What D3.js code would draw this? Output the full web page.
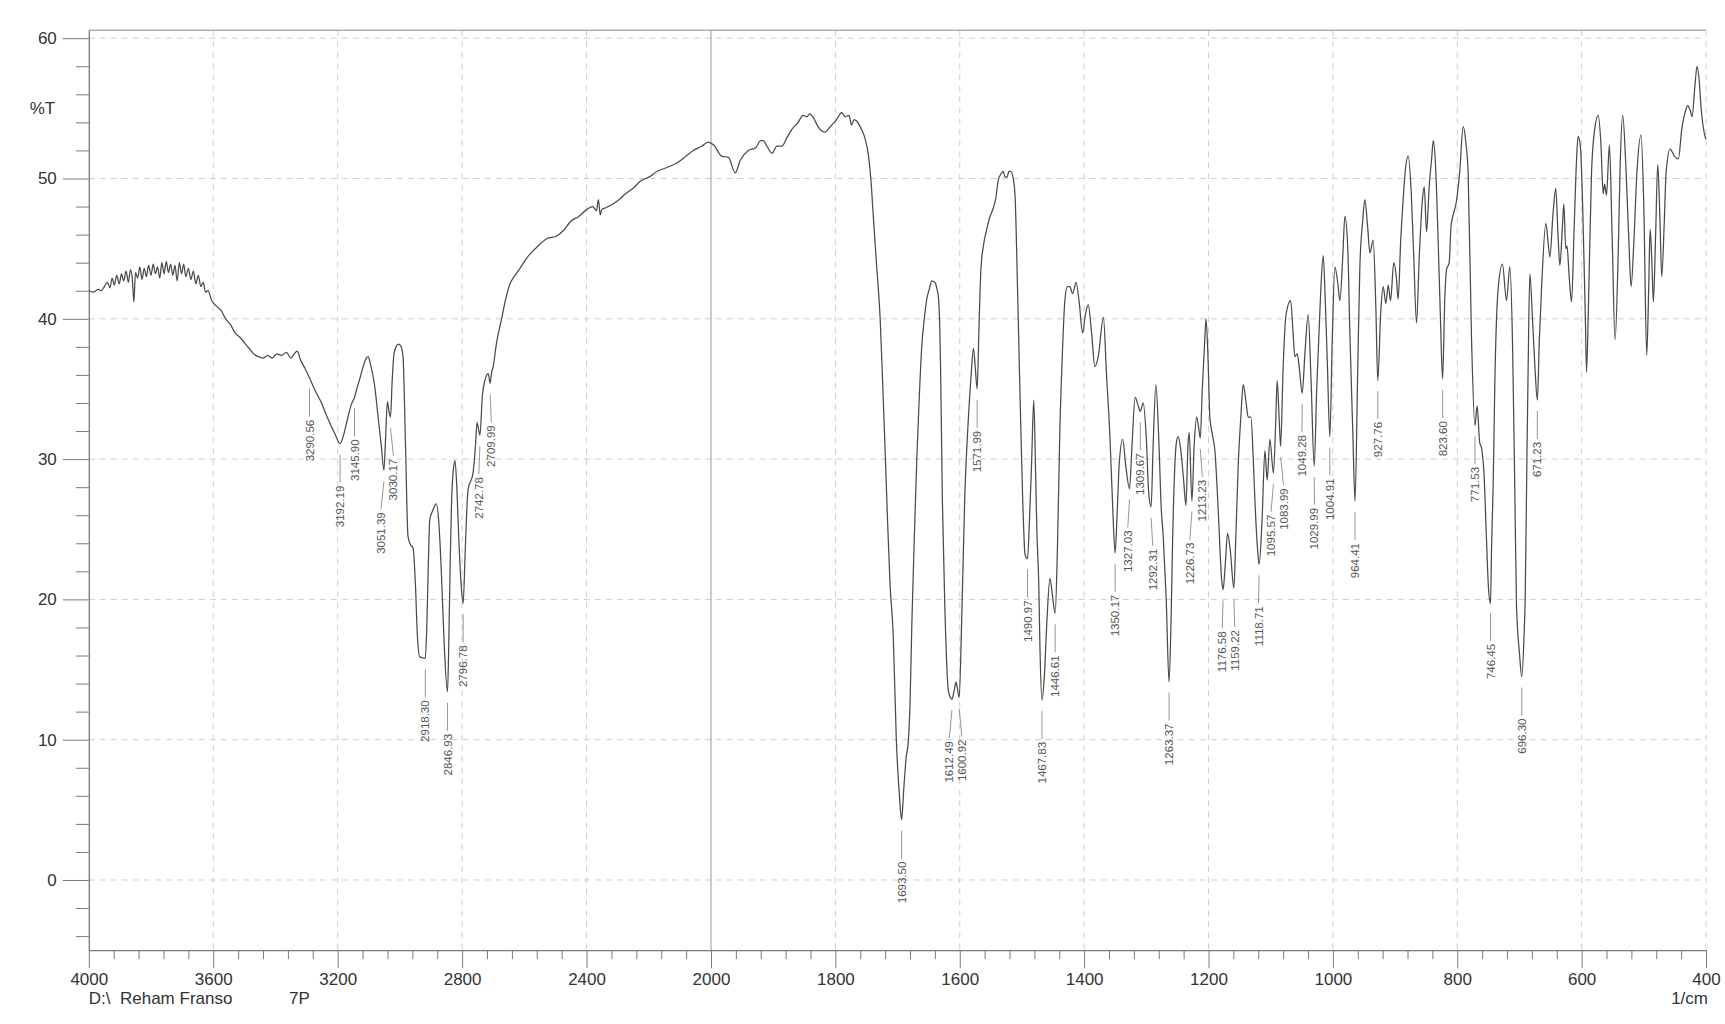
<!DOCTYPE html>
<html>
<head>
<meta charset="utf-8">
<script src="https://cdn.jsdelivr.net/npm/d3@7"></script>
<style>
  body { margin: 0; background: #ffffff; }
  svg { display: block; }
  text { font-family: "Liberation Sans", Arial, sans-serif; }
</style>
</head>
<body>
<svg id="chart" width="1725" height="1024"></svg>
<script>
// ---------------- DATA ----------------
const wavenumbers = [
4000,3985,3970,3960,3950,3940,3932,3925,3918,3910,3902,3895,3888,3880,3873,3866,3860,3855,3850,3843,
3836,3829,3822,3815,3808,3800,3793,3786,3779,3772,3765,3758,3751,3744,3737,3730,3723,3716,3709,3702,
3695,3688,3680,3672,3664,3656,3648,3640,3632,3625,3617,3605,3590,3575,3560,3545,3530,3515,3500,3485,
3470,3455,3440,3425,3410,3395,3380,3365,3350,3340,3330,3320,3306,3290.6,3275,3252,3230,3209,3192.2,3180,
3167,3156,3145.9,3136,3128,3118,3108,3102,3095,3081,3070,3060,3051.4,3046,3040,3035,3030.2,3025,3019,3010,
3004,2996,2990,2982,2974,2966,2958,2950,2944,2936,2918.3,2913,2908,2904,2895,2883,2875,2867,2858,2846.9,
2842,2838,2834,2828,2823,2817,2811,2803,2796.8,2790,2781,2765,2757,2752,2742.8,2735,2727,2716,2710,2705,
2700,2690,2674,2660,2646,2630,2614,2590,2560,2528,2496,2470,2453,2425,2399,2380,2368,2362,2356,2351,
2340,2314,2295,2276,2250,2228,2200,2174,2140,2110,2080,2057,2030,2009,1996,1983,1972,1961,1953,1940,
1928,1920,1916,1910,1902,1894,1886,1878,1870,1860,1852,1846,1841,1835,1828,1822,1817,1810,1806,1798,
1790,1784,1778,1774,1770,1766,1758,1752,1747,1743,1739,1734,1728,1724,1720,1716,1712,1707,1702,1697,
1693.5,1690,1686,1683,1680,1677,1673,1669,1665,1661,1657,1653,1649,1645,1640,1637,1634,1631,1628,1624,
1618,1612.5,1609,1606,1604,1600.9,1597,1592,1586,1582,1578,1575,1572,1569,1566,1562,1557,1552,1546,1542,
1538,1534,1530,1527,1524,1521,1518,1514,1511,1507,1503,1499,1495,1491,1488,1484.5,1481,1478,1476,1473,
1471,1467.8,1464,1460,1455,1451,1446.6,1443,1439,1435,1431,1427,1423,1418.5,1413,1408,1402.4,1398,1393.4,1388,
1382.7,1377.3,1369,1364,1358.5,1354,1350.2,1347,1343.5,1338,1333,1327,1323,1318,1313,1309.7,1305,1300,1296,1292.3,
1289,1284.6,1280,1276,1272.8,1268,1263.4,1260,1257.7,1251.3,1248.7,1245,1240,1236.3,1233,1231,1226.7,1223,1219,1216,
1213.2,1210,1206,1204,1201,1197.8,1194,1189.7,1184,1179,1176.6,1173,1169.4,1165,1159.2,1156,1152.3,1148,1144.2,1140,
1136.2,1131.8,1128,1125.4,1121,1118.7,1114,1109.3,1105.6,1101.3,1095.6,1092,1089.6,1086,1084,1080,1075.6,1068,1064,1061.1,
1057.4,1054,1049.3,1045,1039.7,1035,1030,1026,1020,1015.6,1012,1009,1004.9,1001,996.8,992,988.7,984,980.7,976,
972.7,968,964.4,960,956.6,952,948.6,944,940.5,935.2,931,927.8,923,919.1,914.8,911,907.3,902,898,895,
891,887,883,879,874,870,865.5,861,856,853,849.4,845,841,838.6,835,831,827,823.6,820,817.2,
813,810,806,802,796,790.5,786,782.5,777,771.5,768,764,761,757,753.5,750,746.5,744.8,742.3,739.5,
734.3,727.3,720.8,715.5,711,707.5,704.7,700,696.3,692.5,690.7,688,686,683.3,679,675,671.2,668,664.5,657.5,
654,651.1,646,641.5,638,635,631,628.6,625.5,623.5,620,616.2,612,608,605.6,602,598,594,592.1,589,
584.1,579,573.4,569,565.3,563,560,555.3,551,546.2,541,538,533.9,529,524,520.5,516,511,504.4,500,
495.3,492,489.9,487,484.6,481,477.6,474,471.2,467,464.2,457.8,450.8,444.4,439,433,429.4,425,422.4,418,
414.4,411,408,402.6,400
];
const transmittance = [
42.0,41.9,42.1,42.0,42.3,42.6,42.2,42.9,42.4,43.1,42.5,43.2,42.7,43.4,42.6,43.5,42.8,41.2,43.3,42.9,
43.7,42.8,43.6,43.0,43.8,43.1,43.9,43.2,43.7,42.9,44.0,43.2,44.1,43.3,43.9,43.1,43.8,42.7,44.0,43.2,
43.9,43.0,43.6,42.8,43.4,42.5,43.1,42.3,42.6,41.9,42.0,41.3,40.9,40.6,40.0,39.6,39.0,38.7,38.3,37.9,
37.5,37.3,37.2,37.4,37.2,37.5,37.4,37.6,37.2,37.5,37.7,37.1,36.5,35.8,35.0,34.0,32.8,31.8,31.1,31.8,
33.0,33.9,34.4,35.2,35.8,36.6,37.2,37.3,36.8,35.2,33.0,31.0,29.2,31.5,34.1,33.4,33.0,35.5,37.5,38.1,
38.2,38.0,37.3,31.0,24.5,23.9,23.7,21.0,17.5,15.9,15.8,18.5,23.0,25.7,26.3,26.8,25.5,22.1,17.0,13.4,
18.0,23.0,26.9,29.3,29.9,28.0,24.5,21.0,19.7,23.5,27.8,29.0,31.0,32.6,31.7,34.5,35.6,36.1,35.4,36.2,
36.6,38.2,39.9,41.4,42.5,43.1,43.6,44.4,45.1,45.7,45.9,46.4,46.9,47.3,47.8,48.0,47.7,48.5,47.4,47.8,
47.9,48.2,48.5,48.9,49.3,49.8,50.1,50.5,50.8,51.1,51.6,52.0,52.3,52.6,52.4,51.6,51.5,50.4,51.3,52.0,
52.2,52.7,52.7,52.3,51.8,52.3,52.3,52.9,53.5,54.0,54.5,54.4,54.6,54.3,53.7,53.4,53.3,53.6,53.8,54.2,
54.7,54.4,54.5,53.8,54.2,54.1,53.5,52.8,51.7,50.0,47.3,44.0,40.0,35.5,30.6,25.5,21.0,17.5,10.0,6.0,
4.3,6.5,8.8,9.7,12.5,18.3,24.5,30.1,34.5,38.1,40.0,41.4,42.1,42.7,42.6,42.2,41.4,37.0,27.2,19.5,
13.4,12.9,13.5,14.1,13.7,13.0,18.3,27.2,33.0,35.8,37.9,36.5,35.0,39.5,43.5,45.2,46.3,47.2,47.9,48.6,
49.9,50.3,50.5,50.1,50.1,50.5,50.5,50.0,48.7,42.0,34.4,27.5,23.2,22.9,25.5,29.7,34.2,29.0,24.9,21.2,
16.5,12.8,14.5,18.3,21.5,20.3,19.0,23.5,32.1,37.5,41.3,42.3,42.3,41.8,42.6,41.2,39.0,40.3,41.0,39.0,
36.6,37.3,40.1,36.0,31.6,26.5,23.3,26.0,29.7,31.4,29.5,27.9,31.0,34.4,33.8,33.4,34.0,31.5,27.5,26.6,
31.0,35.3,31.5,26.5,24.5,20.0,14.1,19.0,24.2,31.3,31.6,30.8,28.5,26.7,31.0,31.9,27.0,31.0,33.0,32.3,
31.5,35.0,38.5,40.0,37.5,33.0,31.8,30.6,26.0,21.5,20.7,22.5,24.7,23.5,20.8,24.5,29.5,33.0,35.3,34.2,
33.0,33.0,30.0,27.1,23.5,22.5,25.5,30.6,28.5,31.4,29.0,32.5,35.6,32.5,30.9,36.5,40.2,41.3,39.0,37.3,
37.5,36.5,34.7,37.5,40.3,35.5,29.5,35.0,41.5,44.5,41.0,37.0,31.6,38.5,43.7,42.5,41.3,44.5,47.3,45.0,
39.0,32.0,27.0,36.5,43.7,47.0,48.5,46.5,44.7,45.6,41.0,35.6,40.5,42.3,41.1,42.4,41.3,44.0,43.0,41.4,
45.5,48.5,50.8,51.6,49.0,44.5,39.7,44.5,48.5,49.4,46.2,49.5,51.5,52.7,51.0,46.0,40.0,35.7,41.5,43.5,
44.0,46.6,47.5,48.2,50.5,53.7,52.5,50.4,38.5,32.4,33.8,31.2,30.8,29.0,24.9,21.0,19.7,23.8,28.0,35.6,
42.1,43.9,41.3,43.7,38.0,28.0,19.5,16.2,14.5,17.5,20.2,30.0,36.5,43.2,40.0,36.5,34.2,38.5,42.1,46.8,
45.5,44.4,47.5,49.3,46.0,43.8,46.5,48.2,45.0,45.2,43.0,41.2,46.5,51.5,53.0,52.3,47.5,40.0,36.2,41.0,
50.4,53.5,54.5,52.5,48.9,49.6,48.8,52.4,46.0,38.5,45.0,51.0,54.5,51.0,45.5,42.3,45.5,50.5,53.1,48.0,
37.4,42.5,46.4,44.0,41.2,46.0,51.0,47.0,43.0,47.0,50.4,52.1,51.6,51.4,53.5,54.8,55.2,54.8,54.4,56.5,
58.0,57.0,55.1,53.2,52.8
];
const peakLabels = [
"3290.56","3192.19","3145.90","3051.39","3030.17","2918.30","2846.93","2796.78","2742.78","2709.99",
"1693.50","1612.49","1600.92","1571.99","1490.97","1467.83","1446.61","1350.17","1327.03","1309.67",
"1292.31","1263.37","1226.73","1213.23","1176.58","1159.22","1118.71","1095.57","1083.99","1049.28",
"1029.99","1004.91","964.41","927.76","823.60","771.53","746.45","696.30","671.23"
];
const xMajorTicks = [4000,3600,3200,2800,2400,2000,1800,1600,1400,1200,1000,800,600,400];
const yTicks = [0,10,20,30,40,50,60];
const yLabel = "%T";
const xLabel = "1/cm";
const fileLabel = "D:\\  Reham Franso";
const sampleLabel = "7P";

// ---------------- LAYOUT ----------------
const svg = d3.select("#chart");
const L = 88.8, R = 1706, XMID = 711;
const x = d3.scaleLinear().domain([4000, 2000, 400]).range([L, XMID, R]);
const y = d3.scaleLinear().domain([-5, 60.57]).range([950.15, 30.2]);
const yTop = y(60.57), yBot = y(-5);

svg.append("rect").attr("width", 1725).attr("height", 1024).attr("fill", "#ffffff");

// grid
const grid = svg.append("g");
grid.selectAll("line.h").data(yTicks).join("line")
  .attr("x1", L).attr("x2", R).attr("y1", d => y(d)).attr("y2", d => y(d))
  .attr("stroke", "#cfcfcf").attr("stroke-width", 1).attr("stroke-dasharray", "6,5");
grid.selectAll("line.v").data(xMajorTicks.filter(d => d !== 4000 && d !== 2000)).join("line")
  .attr("x1", d => x(d)).attr("x2", d => x(d)).attr("y1", yTop).attr("y2", yBot)
  .attr("stroke", "#cfcfcf").attr("stroke-width", 1).attr("stroke-dasharray", "6,5");
grid.append("line").attr("x1", x(2000)).attr("x2", x(2000)).attr("y1", yTop).attr("y2", yBot)
  .attr("stroke", "#9a9a9a").attr("stroke-width", 1);
// top frame
svg.append("line").attr("x1", L).attr("x2", R).attr("y1", yTop).attr("y2", yTop)
  .attr("stroke", "#8a8a8a").attr("stroke-width", 1);

// axes
const xMinor = d3.range(4000, 2000, -80).concat(d3.range(2000, 399, -40))
  .filter(d => !xMajorTicks.includes(d));
const yMinor = d3.range(-4, 61, 2).filter(d => !yTicks.includes(d));

function styleAxis(g) {
  g.selectAll("path").attr("stroke", "#7a7a7a").attr("stroke-width", 1);
  g.selectAll("line").attr("stroke", "#7a7a7a").attr("stroke-width", 1);
  g.selectAll("text").attr("fill", "#333").attr("font-size", 17)
    .attr("font-family", "'Liberation Sans', Arial, sans-serif");
}
svg.append("g").attr("transform", `translate(0,${yBot})`)
  .call(d3.axisBottom(x).tickValues(xMinor).tickSize(9).tickSizeOuter(0).tickFormat(""))
  .call(styleAxis);
svg.append("g").attr("transform", `translate(0,${yBot})`)
  .call(d3.axisBottom(x).tickValues(xMajorTicks).tickSize(18).tickSizeOuter(0).tickPadding(5).tickFormat(d3.format("d")))
  .call(styleAxis);
svg.append("g").attr("transform", `translate(${L},0)`)
  .call(d3.axisLeft(y).tickValues(yMinor).tickSize(13).tickSizeOuter(0).tickFormat(""))
  .call(styleAxis);
svg.append("g").attr("transform", `translate(${L},0)`)
  .call(d3.axisLeft(y).tickValues(yTicks).tickSize(26).tickSizeOuter(0).tickPadding(6).tickFormat(d3.format("d")))
  .call(styleAxis);

// axis titles
svg.append("text").attr("x", 42.5).attr("y", 108).attr("text-anchor", "middle")
  .attr("dominant-baseline", "central").attr("font-size", 17).attr("fill", "#333").text(yLabel);
svg.append("text").attr("x", 1708).attr("y", 1004).attr("text-anchor", "end")
  .attr("font-size", 17).attr("fill", "#333").text(xLabel);
svg.append("text").attr("x", L).attr("y", 1004).attr("font-size", 17).attr("fill", "#333")
  .style("white-space", "pre").text(fileLabel);
svg.append("text").attr("x", 289).attr("y", 1004).attr("font-size", 17).attr("fill", "#333").text(sampleLabel);

// spectrum
const pts = wavenumbers.map((w, i) => [w, transmittance[i]]);
const line = d3.line().x(d => x(d[0])).y(d => y(d[1])).curve(d3.curveMonotoneX);
svg.append("path").datum(pts).attr("d", line)
  .attr("fill", "none").attr("stroke", "#4a4a4a").attr("stroke-width", 1.25).attr("stroke-linejoin", "round");

// peak labels
function interp(w) {
  for (let i = 0; i < wavenumbers.length - 1; i++) {
    const a = wavenumbers[i], b = wavenumbers[i + 1];
    if (w <= a && w >= b) {
      const t = (a - w) / (a - b);
      return transmittance[i] + t * (transmittance[i + 1] - transmittance[i]);
    }
  }
  return transmittance[transmittance.length - 1];
}
const peaks = peakLabels.map(s => {
  const w = +s;
  return { s, px: x(w), py: y(interp(w)) };
}).sort((a, b) => a.px - b.px);
peaks.forEach(p => p.tx = p.px);
const minGap = 12.5;
for (let it = 0; it < 60; it++) {
  for (let i = 0; i < peaks.length - 1; i++) {
    const d = peaks[i + 1].tx - peaks[i].tx;
    if (d < minGap) {
      const push = (minGap - d) / 2;
      peaks[i].tx -= push; peaks[i + 1].tx += push;
    }
  }
}
const lab = svg.append("g");
lab.selectAll("line").data(peaks).join("line")
  .attr("x1", d => d.px).attr("y1", d => d.py + 11)
  .attr("x2", d => d.tx).attr("y2", d => d.py + 39)
  .attr("stroke", "#8a8a8a").attr("stroke-width", 0.9);
lab.selectAll("text").data(peaks).join("text")
  .attr("transform", d => `translate(${d.tx + 4},${d.py + 42}) rotate(-90)`)
  .attr("text-anchor", "end").attr("font-size", 11.5).attr("fill", "#555")
  .text(d => d.s);
</script>
</body>
</html>
